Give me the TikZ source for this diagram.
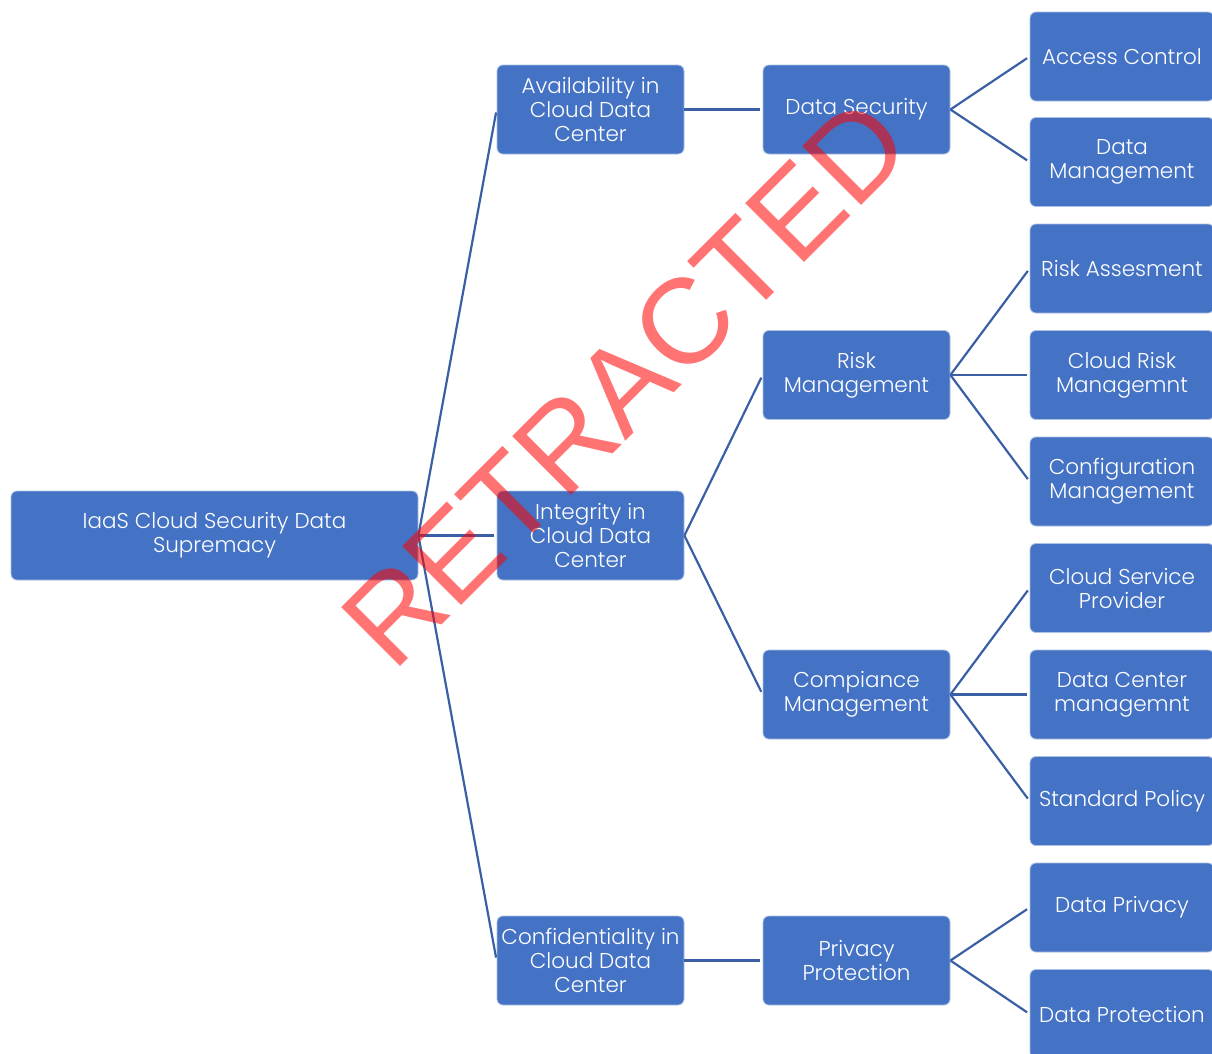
\documentclass[tikz,border=0pt]{standalone}
\usepackage{fontspec}
\setmainfont{Poppins}[UprightFont=* Light]
\newfontfamily\stampfont{Liberation Sans}

\definecolor{boxblue}{HTML}{4472C4}
\definecolor{linkblue}{HTML}{3A5FA5}

\begin{document}
\begin{tikzpicture}[x=1pt,y=-1pt,
    box/.style={draw=white!55!boxblue, line width=0.8pt, fill=boxblue, rounded corners=6pt,
        minimum width=187pt, minimum height=89pt, align=center, text=white,
        font=\fontsize{21.5}{24}\selectfont, inner sep=0pt},
    link/.style={draw=linkblue, line width=2.2pt},
    stamp/.style={text=red, opacity=0.55, font=\stampfont\fontsize{121}{121}\selectfont}]

    % picture area
    \useasboundingbox (0,0) rectangle (1212,1053);

    % root
    \node[box, minimum width=407pt] (root) at (214.5,535.5) {IaaS Cloud Security Data\\Supremacy};

    % second level
    \node[box] (avail)  at (590.5,109.5) {Availability in\\Cloud Data\\Center};
    \node[box] (integ)  at (590.5,535.5) {Integrity in\\Cloud Data\\Center};
    \node[box] (confid) at (590.5,960.5) {Confidentiality in\\Cloud Data\\Center};

    % third level
    \node[box] (datasec)  at (856.5,109.5) {Data Security};
    \node[box] (riskmgmt) at (856.5,375)   {Risk\\Management};
    \node[box] (compmgmt) at (856.5,694.5) {Compiance\\Management};
    \node[box] (privprot) at (856.5,960.5) {Privacy\\Protection};

    % leaves
    \node[box, minimum width=184pt] (access)    at (1122,56.5)   {Access Control};
    \node[box, minimum width=184pt] (datamgmt)  at (1122,162)    {Data\\Management};
    \node[box, minimum width=184pt] (riskass)   at (1122,268.5)  {Risk Assesment};
    \node[box, minimum width=184pt] (cloudrisk) at (1122,375)    {Cloud Risk\\Managemnt};
    \node[box, minimum width=184pt] (config)    at (1122,481.5)  {Configuration\\Management};
    \node[box, minimum width=184pt] (csp)       at (1122,588)    {Cloud Service\\Provider};
    \node[box, minimum width=184pt] (dcm)       at (1122,694.5)  {Data Center\\managemnt};
    \node[box, minimum width=184pt] (stdpol)    at (1122,801)    {Standard Policy};
    \node[box, minimum width=184pt] (dprivacy)  at (1122,907.5)  {Data Privacy};
    \node[box, minimum width=184pt] (dprotect)  at (1122,1014)   {Data Protection};

    % connectors
    \foreach \a/\b in {root/avail, root/integ, root/confid,
                       avail/datasec, integ/riskmgmt, integ/compmgmt, confid/privprot,
                       datasec/access, datasec/datamgmt,
                       riskmgmt/riskass, riskmgmt/cloudrisk, riskmgmt/config,
                       compmgmt/csp, compmgmt/dcm, compmgmt/stdpol,
                       privprot/dprivacy, privprot/dprotect}
        \draw[link, shorten >=3pt] (\a.east) -- (\b.west);

    % watermark
    \node[stamp, rotate=45] (retracted) at (625,383) {RETRACTED};
\end{tikzpicture}
\end{document}
